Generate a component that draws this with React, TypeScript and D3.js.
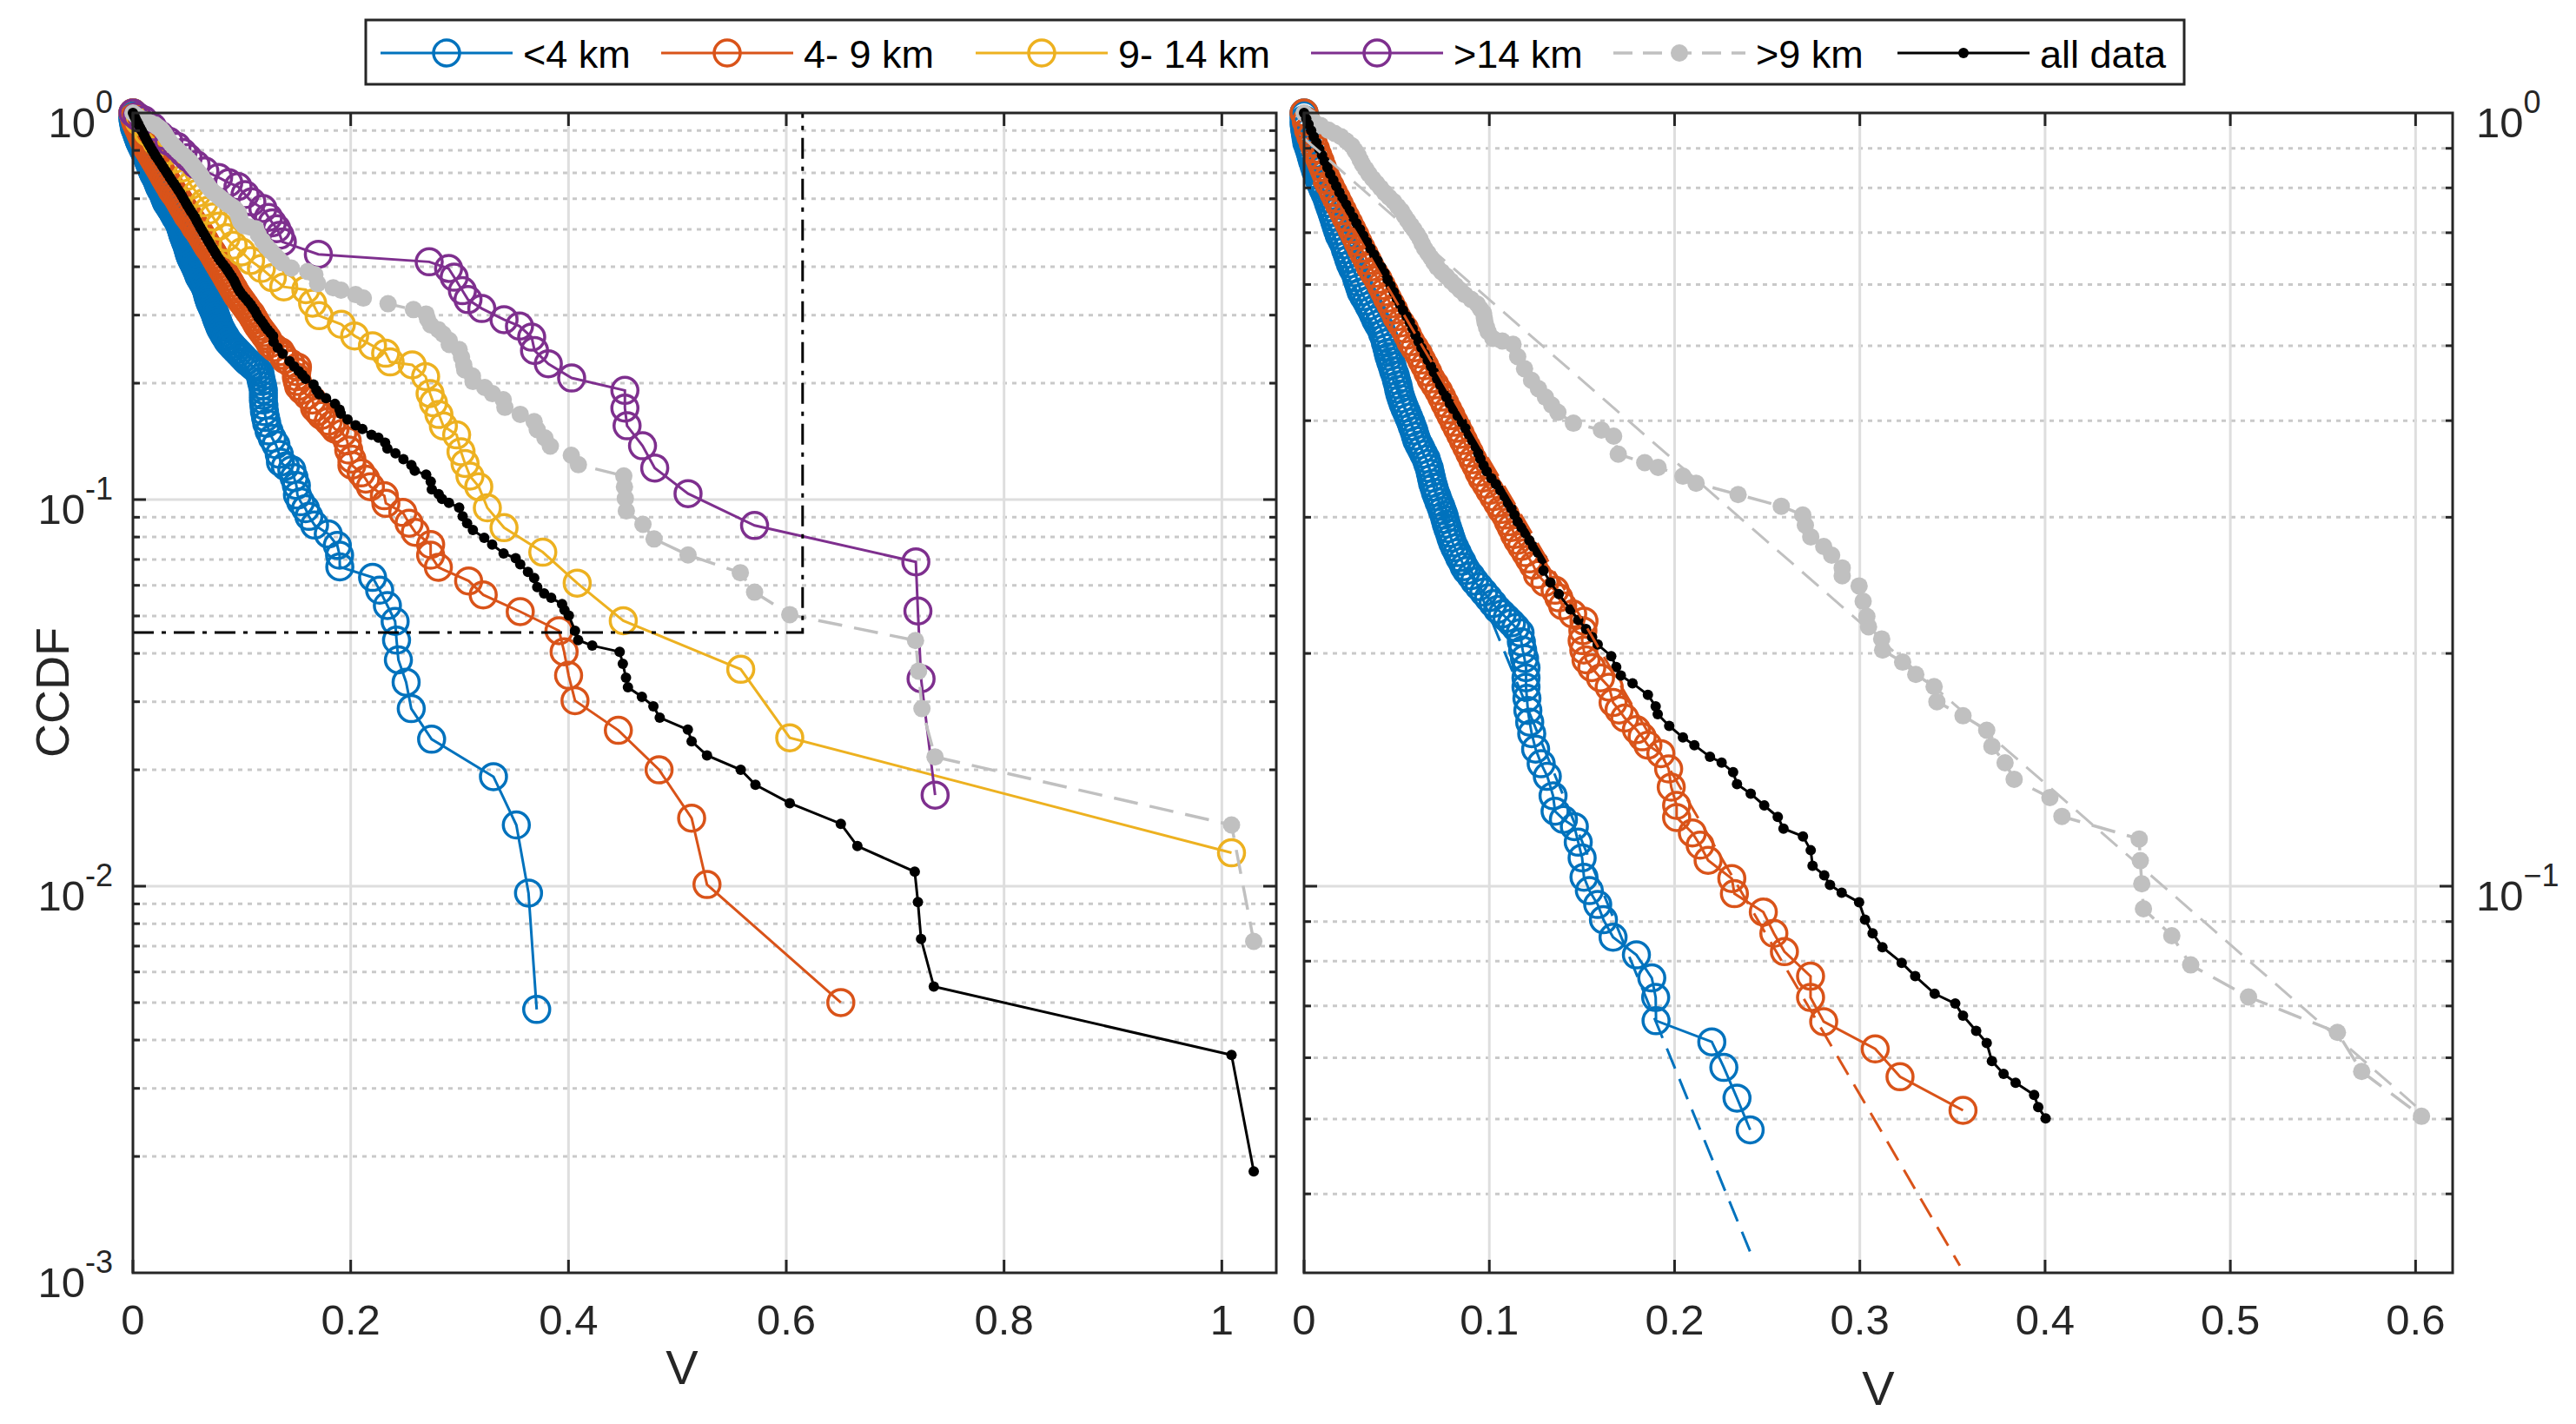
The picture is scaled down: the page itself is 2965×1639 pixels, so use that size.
import React, { useEffect, useRef } from "react";
import * as d3 from "d3";

type Pt = [number, number];

// [V, CCDF] per distance class
const lt4km: Pt[] = [
  [0, 1], [0, 0.994], [0, 0.98], [0, 0.967], [0.0003, 0.954], [0.0007, 0.941], [0.0011, 0.928], [0.0015, 0.915],
  [0.0024, 0.902], [0.0032, 0.89], [0.0039, 0.878], [0.0046, 0.866], [0.0054, 0.854], [0.0062, 0.842],
  [0.0072, 0.83], [0.0082, 0.819], [0.0092, 0.808], [0.0102, 0.797], [0.0113, 0.786], [0.0124, 0.775],
  [0.0132, 0.764], [0.0141, 0.754], [0.015, 0.743], [0.0158, 0.733], [0.0166, 0.723], [0.0174, 0.713],
  [0.0182, 0.703], [0.0191, 0.694], [0.0204, 0.684], [0.0216, 0.675], [0.0224, 0.665], [0.0233, 0.656],
  [0.0241, 0.647], [0.025, 0.638], [0.0262, 0.629], [0.0275, 0.621], [0.0283, 0.612], [0.0291, 0.604],
  [0.03, 0.595], [0.0308, 0.587], [0.0322, 0.579], [0.0337, 0.571], [0.035, 0.563], [0.0363, 0.556],
  [0.0375, 0.548], [0.0387, 0.54], [0.04, 0.533], [0.0414, 0.526], [0.0424, 0.518], [0.0434, 0.511],
  [0.044, 0.504], [0.0447, 0.497], [0.0453, 0.49], [0.0459, 0.484], [0.0467, 0.477], [0.0475, 0.471],
  [0.0483, 0.464], [0.0492, 0.458], [0.0499, 0.451], [0.0506, 0.445], [0.0511, 0.439], [0.0517, 0.433],
  [0.0525, 0.427], [0.0534, 0.421], [0.0544, 0.415], [0.0554, 0.41], [0.0565, 0.404], [0.0576, 0.398],
  [0.0584, 0.393], [0.0593, 0.388], [0.0601, 0.382], [0.0609, 0.377], [0.0621, 0.372], [0.0634, 0.367],
  [0.0646, 0.362], [0.0659, 0.357], [0.0667, 0.352], [0.0676, 0.347], [0.0682, 0.342], [0.0688, 0.337],
  [0.0694, 0.332], [0.0701, 0.328], [0.0709, 0.323], [0.0718, 0.319], [0.0728, 0.314], [0.0738, 0.31],
  [0.0746, 0.306], [0.0755, 0.302], [0.0761, 0.298], [0.0768, 0.294], [0.0776, 0.29], [0.0785, 0.286],
  [0.0793, 0.282], [0.0802, 0.278], [0.0814, 0.274], [0.0827, 0.27], [0.0839, 0.266], [0.0852, 0.263],
  [0.0864, 0.259], [0.0877, 0.256], [0.09, 0.252], [0.092, 0.248], [0.0945, 0.244], [0.097, 0.24],
  [0.0995, 0.236], [0.102, 0.232], [0.1045, 0.228], [0.107, 0.225], [0.1095, 0.222], [0.112, 0.219],
  [0.1143, 0.216], [0.1166, 0.2127], [0.1173, 0.207], [0.118, 0.202], [0.119, 0.197], [0.1198, 0.1917],
  [0.1198, 0.186], [0.1198, 0.1809], [0.1203, 0.175], [0.1208, 0.1688], [0.1218, 0.163], [0.1229, 0.1575],
  [0.125, 0.1504], [0.128, 0.144], [0.1313, 0.1387], [0.1344, 0.1309], [0.1355, 0.125], [0.14, 0.122],
  [0.1459, 0.1194], [0.148, 0.114], [0.1501, 0.1088], [0.1511, 0.1027], [0.154, 0.0987], [0.1585, 0.0947],
  [0.1616, 0.0905], [0.1668, 0.0859], [0.1794, 0.0815], [0.1877, 0.0761], [0.1898, 0.0718], [0.19, 0.067],
  [0.2201, 0.0629], [0.2266, 0.0583], [0.2337, 0.0532], [0.2408, 0.0484], [0.2421, 0.0433], [0.2438, 0.0385],
  [0.2509, 0.0337], [0.2556, 0.0288], [0.2743, 0.024], [0.3311, 0.0192], [0.3521, 0.0144], [0.3633, 0.0096],
  [0.3708, 0.0048],
];

const km4to9: Pt[] = [
  [0, 1], [0.0012, 0.975], [0.0024, 0.95], [0.0037, 0.932], [0.0049, 0.915], [0.0062, 0.898], [0.0074, 0.882],
  [0.0087, 0.866], [0.0099, 0.85], [0.0112, 0.834], [0.0124, 0.819], [0.0141, 0.804], [0.0158, 0.789],
  [0.0175, 0.775], [0.0191, 0.761], [0.0208, 0.747], [0.0225, 0.733], [0.0242, 0.72], [0.0258, 0.707],
  [0.0275, 0.694], [0.0291, 0.681], [0.0308, 0.668], [0.0325, 0.656], [0.0342, 0.644], [0.0358, 0.632],
  [0.0379, 0.62], [0.04, 0.609], [0.0417, 0.598], [0.0434, 0.587], [0.045, 0.576], [0.0467, 0.566],
  [0.0484, 0.556], [0.05, 0.545], [0.0521, 0.535], [0.0542, 0.526], [0.0559, 0.516], [0.0576, 0.506],
  [0.0597, 0.497], [0.0618, 0.488], [0.0635, 0.479], [0.0651, 0.471], [0.0668, 0.462], [0.0685, 0.453],
  [0.0706, 0.445], [0.0726, 0.437], [0.0743, 0.429], [0.076, 0.421], [0.0777, 0.413], [0.0793, 0.406],
  [0.081, 0.398], [0.0827, 0.391], [0.0844, 0.384], [0.086, 0.377], [0.0877, 0.37], [0.0894, 0.363],
  [0.0911, 0.356], [0.0927, 0.35], [0.0944, 0.343], [0.0961, 0.337], [0.0982, 0.331], [0.1002, 0.325],
  [0.1023, 0.319], [0.1044, 0.313], [0.1065, 0.307], [0.1086, 0.302], [0.1103, 0.296], [0.1119, 0.291],
  [0.1136, 0.285], [0.1153, 0.28], [0.1174, 0.275], [0.1195, 0.27], [0.1216, 0.265], [0.1237, 0.26],
  [0.126, 0.253], [0.13, 0.247], [0.1355, 0.2414], [0.1375, 0.236], [0.1396, 0.2305], [0.145, 0.225],
  [0.1511, 0.2202], [0.1505, 0.214], [0.1501, 0.2078], [0.151, 0.202], [0.1522, 0.1962], [0.1553, 0.1917],
  [0.16, 0.186], [0.1647, 0.1809], [0.1668, 0.1728], [0.17, 0.169], [0.1731, 0.165], [0.1794, 0.1594],
  [0.1825, 0.156], [0.1856, 0.1522], [0.1926, 0.1484], [0.1968, 0.1418], [0.1982, 0.1343], [0.2011, 0.1272],
  [0.2011, 0.1227], [0.2096, 0.1172], [0.2138, 0.113], [0.2181, 0.108], [0.2309, 0.1023], [0.2323, 0.0978],
  [0.2479, 0.0926], [0.2536, 0.0869], [0.2593, 0.0823], [0.2734, 0.0765], [0.2734, 0.0718], [0.2805, 0.0668],
  [0.3083, 0.0616], [0.3217, 0.0567], [0.3557, 0.0513], [0.3913, 0.0458], [0.396, 0.0404], [0.4001, 0.0351],
  [0.406, 0.0302], [0.4458, 0.0253], [0.4832, 0.02], [0.5131, 0.015], [0.5272, 0.0101], [0.6501, 0.005],
];

const km9to14: Pt[] = [
  [0, 1], [0.006, 0.95], [0.014, 0.89], [0.022, 0.84], [0.0326, 0.799], [0.038, 0.76], [0.0448, 0.72],
  [0.049, 0.685], [0.0532, 0.65], [0.059, 0.62], [0.0653, 0.586], [0.069, 0.56], [0.0735, 0.538],
  [0.079, 0.51], [0.0856, 0.476], [0.092, 0.455], [0.0998, 0.437], [0.108, 0.415], [0.118, 0.396],
  [0.128, 0.375], [0.1385, 0.355], [0.1588, 0.349], [0.165, 0.322], [0.171, 0.299], [0.1914, 0.284],
  [0.2036, 0.265], [0.22, 0.25], [0.2321, 0.239], [0.2362, 0.227], [0.2565, 0.223], [0.2688, 0.208],
  [0.2729, 0.188], [0.276, 0.178], [0.281, 0.166], [0.2851, 0.155], [0.2973, 0.147], [0.3013, 0.133],
  [0.305, 0.124], [0.3095, 0.115], [0.3176, 0.108], [0.3255, 0.0952], [0.3408, 0.0846], [0.3764, 0.0731],
  [0.408, 0.0608], [0.4503, 0.0486], [0.5582, 0.0364], [0.6032, 0.0242], [1.0089, 0.0122],
];

const gt14km: Pt[] = [
  [0, 1], [0.004, 0.98], [0.01, 0.959], [0.018, 0.92], [0.0252, 0.875], [0.033, 0.845], [0.0405, 0.819],
  [0.046, 0.79], [0.0507, 0.766], [0.058, 0.735], [0.066, 0.708], [0.0787, 0.681], [0.088, 0.66],
  [0.0965, 0.645], [0.103, 0.615], [0.1092, 0.589], [0.1194, 0.566], [0.1245, 0.537], [0.128, 0.52],
  [0.1321, 0.502], [0.135, 0.483], [0.1372, 0.464], [0.1703, 0.431], [0.2721, 0.412], [0.2899, 0.396],
  [0.295, 0.376], [0.3026, 0.347], [0.3077, 0.329], [0.3204, 0.312], [0.3408, 0.292], [0.355, 0.281],
  [0.3662, 0.263], [0.3688, 0.243], [0.3815, 0.2245], [0.4029, 0.2063], [0.4518, 0.1916], [0.4518, 0.1724],
  [0.4538, 0.1552], [0.468, 0.1378], [0.4792, 0.1207], [0.5098, 0.1036], [0.5709, 0.0857], [0.719, 0.069],
  [0.7209, 0.0515], [0.7238, 0.0344], [0.7367, 0.0172],
];

const gt9km: Pt[] = [
  [0, 1], [0.0025, 0.988], [0.0049, 0.976], [0.009, 0.963], [0.0132, 0.95], [0.0165, 0.941], [0.0199, 0.932],
  [0.0228, 0.92], [0.0258, 0.907], [0.0275, 0.894], [0.0291, 0.882], [0.0303, 0.87], [0.0316, 0.858],
  [0.0333, 0.846], [0.035, 0.834], [0.0371, 0.822], [0.0392, 0.811], [0.0413, 0.8], [0.0434, 0.789],
  [0.0459, 0.778], [0.0484, 0.768], [0.0505, 0.757], [0.0526, 0.747], [0.0542, 0.736], [0.0559, 0.726],
  [0.0576, 0.716], [0.0593, 0.707], [0.061, 0.697], [0.0626, 0.687], [0.0638, 0.677], [0.0651, 0.668],
  [0.0668, 0.659], [0.0685, 0.65], [0.0701, 0.641], [0.0718, 0.632], [0.0743, 0.623], [0.0768, 0.615],
  [0.0793, 0.606], [0.0818, 0.598], [0.0843, 0.59], [0.0869, 0.582], [0.0902, 0.574], [0.0935, 0.566],
  [0.0952, 0.558], [0.0969, 0.551], [0.0973, 0.543], [0.0977, 0.536], [0.0985, 0.528], [0.0994, 0.521],
  [0.1019, 0.511], [0.107, 0.507], [0.1128, 0.502], [0.1153, 0.484], [0.119, 0.467], [0.1228, 0.451],
  [0.1265, 0.44], [0.1303, 0.429], [0.1337, 0.419], [0.137, 0.41], [0.1454, 0.397], [0.1605, 0.389],
  [0.1671, 0.382], [0.1696, 0.362], [0.1839, 0.353], [0.1911, 0.348], [0.2045, 0.339], [0.2116, 0.332],
  [0.2343, 0.321], [0.2576, 0.31], [0.2692, 0.302], [0.2706, 0.293], [0.2735, 0.283], [0.2805, 0.275],
  [0.2848, 0.268], [0.2905, 0.258], [0.2905, 0.252], [0.2996, 0.2445], [0.3018, 0.2336], [0.3038, 0.2233],
  [0.3047, 0.2165], [0.3118, 0.2088], [0.3123, 0.202], [0.3231, 0.1949], [0.3302, 0.1879], [0.3401, 0.1812],
  [0.3416, 0.1732], [0.3557, 0.1661], [0.3685, 0.1591], [0.3713, 0.1517], [0.3784, 0.1444], [0.3833, 0.1375],
  [0.4026, 0.1302], [0.4091, 0.1231], [0.4508, 0.1151], [0.4514, 0.1079], [0.4522, 0.1007], [0.4531, 0.0935],
  [0.4684, 0.0863], [0.4786, 0.0791], [0.5098, 0.0719], [0.5578, 0.0647], [0.5709, 0.0576], [0.6032, 0.0504],
  [0.7187, 0.0432], [0.7215, 0.036], [0.7246, 0.0288], [0.7366, 0.0216], [1.0089, 0.0144], [1.0293, 0.0072],
];

const allData: Pt[] = [
  [0, 1], [0.0012, 0.983], [0.0024, 0.967], [0.0038, 0.949], [0.0052, 0.932], [0.0067, 0.915], [0.0082, 0.898],
  [0.0097, 0.882], [0.0111, 0.866], [0.0126, 0.85], [0.0141, 0.834], [0.0158, 0.819], [0.0174, 0.804],
  [0.0191, 0.789], [0.0208, 0.775], [0.0227, 0.761], [0.0246, 0.747], [0.0265, 0.733], [0.0283, 0.72],
  [0.0302, 0.707], [0.032, 0.694], [0.0339, 0.681], [0.0358, 0.668], [0.0378, 0.656], [0.0397, 0.644],
  [0.0416, 0.632], [0.0434, 0.621], [0.0451, 0.609], [0.0467, 0.598], [0.0484, 0.587], [0.05, 0.576],
  [0.0517, 0.566], [0.0534, 0.556], [0.0553, 0.546], [0.0571, 0.536], [0.0586, 0.526], [0.0601, 0.516],
  [0.0618, 0.506], [0.0634, 0.497], [0.0651, 0.488], [0.0668, 0.479], [0.0685, 0.47], [0.0701, 0.462],
  [0.0718, 0.453], [0.0735, 0.445], [0.0752, 0.437], [0.0768, 0.429], [0.0787, 0.421], [0.0805, 0.414],
  [0.0829, 0.406], [0.0852, 0.398], [0.0871, 0.391], [0.0889, 0.384], [0.0908, 0.377], [0.0927, 0.37],
  [0.094, 0.363], [0.0952, 0.357], [0.0969, 0.35], [0.0986, 0.344], [0.1011, 0.337], [0.1036, 0.331],
  [0.106, 0.325], [0.1083, 0.319], [0.1101, 0.313], [0.1119, 0.308], [0.1136, 0.302], [0.1153, 0.296],
  [0.1174, 0.291], [0.1195, 0.286], [0.1216, 0.28], [0.1237, 0.275], [0.1262, 0.27], [0.1287, 0.265],
  [0.1292, 0.2559], [0.133, 0.247], [0.1375, 0.2386], [0.1438, 0.2279], [0.148, 0.221], [0.1522, 0.2151],
  [0.1555, 0.21], [0.1585, 0.2054], [0.1658, 0.1984], [0.1685, 0.192], [0.171, 0.1873], [0.1773, 0.183],
  [0.1856, 0.1768], [0.1898, 0.1708], [0.1909, 0.1669], [0.1971, 0.1612], [0.2045, 0.1557], [0.2107, 0.1522],
  [0.2191, 0.147], [0.2254, 0.1445], [0.2316, 0.1404], [0.2337, 0.1355], [0.2411, 0.1317], [0.2484, 0.1272],
  [0.2557, 0.1229], [0.2588, 0.1187], [0.2693, 0.116], [0.2735, 0.1113], [0.2745, 0.1063], [0.2808, 0.1033],
  [0.2839, 0.1004], [0.2902, 0.0981], [0.2996, 0.0953], [0.3028, 0.0905], [0.3069, 0.0869], [0.3122, 0.0834],
  [0.3226, 0.0796], [0.3299, 0.0765], [0.3404, 0.0726], [0.3515, 0.0705], [0.3557, 0.068], [0.3628, 0.065],
  [0.3685, 0.0627], [0.3713, 0.0594], [0.3776, 0.0572], [0.3841, 0.0557], [0.3941, 0.0537], [0.3963, 0.0518],
  [0.4003, 0.0501], [0.406, 0.0458], [0.4089, 0.0433], [0.4218, 0.0419], [0.447, 0.0404], [0.4499, 0.0376],
  [0.4528, 0.0346], [0.4546, 0.0327], [0.4674, 0.0309], [0.478, 0.0292], [0.4838, 0.0273], [0.5096, 0.0254],
  [0.5131, 0.0237], [0.5272, 0.0218], [0.5582, 0.02], [0.5717, 0.0183], [0.6032, 0.0164], [0.6501, 0.0145],
  [0.6653, 0.0127], [0.718, 0.0109], [0.7209, 0.0091], [0.7238, 0.0073], [0.7355, 0.0055], [1.0089, 0.00366],
  [1.0293, 0.00183],
];

// exponential fits, straight on the semilog axes (end points)
const fitLt4: Pt[] = [[0, 0.863], [0.2407, 0.0337]];
const fit4to9: Pt[] = [[0, 0.912], [0.354, 0.0323]];
const fitGt9: Pt[] = [[0, 0.927], [0.6, 0.052]];

// area of the left panel that the right panel blows up
const zoomBoxV = [0, 0.615];
const zoomBoxCCDF = [0.0453, 1];
const ZOOM_CUT = 0.047;

const legendLabels = ["<4 km", "4- 9 km", "9- 14 km", ">14 km", ">9 km", "all data"];
const xTicksLeft = [0, 0.2, 0.4, 0.6, 0.8, 1];
const xTicksRight = [0, 0.1, 0.2, 0.3, 0.4, 0.5, 0.6];
const decadesLeft = [-3, -2, -1, 0];
const decadesRight = [-1, 0];

const W = 2965;
const H = 1639;
const FONT = "'Liberation Sans', Arial, Helvetica, sans-serif";
const INK = "#262626";

type Mark = "o" | "dot" | "small";
interface Series {
  data: Pt[];
  color: string;
  mark: Mark;
  dash: string | null;
  inZoom: boolean;
}

const SERIES: Series[] = [
  { data: lt4km, color: "#0072BD", mark: "o", dash: null, inZoom: true },
  { data: km4to9, color: "#D95319", mark: "o", dash: null, inZoom: true },
  { data: km9to14, color: "#EDB120", mark: "o", dash: null, inZoom: false },
  { data: gt14km, color: "#7E2F8E", mark: "o", dash: null, inZoom: false },
  { data: gt9km, color: "#C0C0C0", mark: "dot", dash: "28 14", inZoom: true },
  { data: allData, color: "#000000", mark: "small", dash: null, inZoom: true },
];

const FITS = [
  { data: fitLt4, color: "#0072BD" },
  { data: fit4to9, color: "#D95319" },
  { data: fitGt9, color: "#C0C0C0" },
];

interface Panel {
  left: number;
  right: number;
  top: number;
  bottom: number;
  xMax: number;
  yMin: number;
  xTicks: number[];
  decades: number[];
  labelSide: "left" | "right";
  xLabelY: number;
  zoomed: boolean;
}

const LEFT_PANEL: Panel = {
  left: 153, right: 1469, top: 130, bottom: 1465, xMax: 1.05, yMin: 1e-3,
  xTicks: xTicksLeft, decades: decadesLeft, labelSide: "left", xLabelY: 1593, zoomed: false,
};
const RIGHT_PANEL: Panel = {
  left: 1501, right: 2823, top: 130, bottom: 1465, xMax: 0.62, yMin: Math.pow(10, -1.5),
  xTicks: xTicksRight, decades: decadesRight, labelSide: "right", xLabelY: 1617, zoomed: true,
};

function drawMarkers(g: any, data: Pt[], s: { color: string; mark: Mark }, x: any, y: any) {
  const sel = g.selectAll(null).data(data).enter().append("circle")
    .attr("cx", (d: Pt) => x(d[0]))
    .attr("cy", (d: Pt) => y(d[1]));
  if (s.mark === "o") {
    sel.attr("r", 15).attr("fill", "none").attr("stroke", s.color).attr("stroke-width", 3.5);
  } else if (s.mark === "dot") {
    sel.attr("r", 10).attr("fill", s.color);
  } else {
    sel.attr("r", 6).attr("fill", s.color);
  }
}

function drawPanel(svg: any, p: Panel) {
  const x = d3.scaleLinear().domain([0, p.xMax]).range([p.left, p.right]);
  const y = d3.scaleLog().domain([p.yMin, 1]).range([p.bottom, p.top]);
  const g = svg.append("g");

  // minor log values inside the y range
  const minors: number[] = [];
  const kLow = Math.floor(Math.log10(p.yMin));
  for (let k = kLow; k < 0; k++) {
    for (let m = 2; m <= 9; m++) {
      const v = m * Math.pow(10, k);
      if (v > p.yMin * 1.0001 && v < 1) minors.push(v);
    }
  }
  const majors = p.decades.map((e) => Math.pow(10, e)).filter((v) => v > p.yMin * 1.0001 && v < 1);

  // grid
  g.selectAll(null).data(minors).enter().append("line")
    .attr("x1", p.left).attr("x2", p.right)
    .attr("y1", (d: number) => y(d)).attr("y2", (d: number) => y(d))
    .attr("stroke", "#c9c9c9").attr("stroke-width", 3).attr("stroke-dasharray", "5 6");
  g.selectAll(null).data(majors).enter().append("line")
    .attr("x1", p.left).attr("x2", p.right)
    .attr("y1", (d: number) => y(d)).attr("y2", (d: number) => y(d))
    .attr("stroke", "#dedede").attr("stroke-width", 3);
  g.selectAll(null).data(p.xTicks.filter((t) => t > 0)).enter().append("line")
    .attr("x1", (d: number) => x(d)).attr("x2", (d: number) => x(d))
    .attr("y1", p.top).attr("y2", p.bottom)
    .attr("stroke", "#dedede").attr("stroke-width", 3);

  // data
  const line = d3.line<Pt>().x((d) => x(d[0])).y((d) => y(d[1]));
  SERIES.forEach((s) => {
    if (p.zoomed && !s.inZoom) return;
    const pts = p.zoomed ? s.data.filter((d) => d[1] >= ZOOM_CUT && d[0] <= p.xMax) : s.data;
    g.append("path")
      .attr("d", line(pts))
      .attr("fill", "none")
      .attr("stroke", s.color)
      .attr("stroke-width", s.mark === "dot" ? 3.5 : 3)
      .attr("stroke-dasharray", s.dash);
    drawMarkers(g, pts, s, x, y);
  });

  if (p.zoomed) {
    FITS.forEach((f) => {
      g.append("path")
        .attr("d", line(f.data))
        .attr("fill", "none")
        .attr("stroke", f.color)
        .attr("stroke-width", 3)
        .attr("stroke-dasharray", "25 13");
    });
  } else {
    // dash-dot outline of the blown-up area
    g.append("path")
      .attr("d", `M${x(zoomBoxV[0])},${y(zoomBoxCCDF[0])}L${x(zoomBoxV[1])},${y(zoomBoxCCDF[0])}L${x(zoomBoxV[1])},${y(zoomBoxCCDF[1])}`)
      .attr("fill", "none")
      .attr("stroke", "#000")
      .attr("stroke-width", 3)
      .attr("stroke-dasharray", "24 9 5 9");
  }

  // ticks (inward, all four sides)
  const ticks = g.append("g").attr("stroke", INK).attr("stroke-width", 3);
  p.xTicks.forEach((t) => {
    ticks.append("line").attr("x1", x(t)).attr("x2", x(t)).attr("y1", p.bottom).attr("y2", p.bottom - 15);
    ticks.append("line").attr("x1", x(t)).attr("x2", x(t)).attr("y1", p.top).attr("y2", p.top + 15);
  });
  majors.forEach((v) => {
    ticks.append("line").attr("x1", p.left).attr("x2", p.left + 15).attr("y1", y(v)).attr("y2", y(v));
    ticks.append("line").attr("x1", p.right).attr("x2", p.right - 15).attr("y1", y(v)).attr("y2", y(v));
  });
  minors.forEach((v) => {
    ticks.append("line").attr("x1", p.left).attr("x2", p.left + 8).attr("y1", y(v)).attr("y2", y(v));
    ticks.append("line").attr("x1", p.right).attr("x2", p.right - 8).attr("y1", y(v)).attr("y2", y(v));
  });

  g.append("rect")
    .attr("x", p.left).attr("y", p.top)
    .attr("width", p.right - p.left).attr("height", p.bottom - p.top)
    .attr("fill", "none").attr("stroke", INK).attr("stroke-width", 3);

  // tick labels
  const labels = g.append("g").attr("fill", INK).attr("font-family", FONT);
  p.xTicks.forEach((t) => {
    labels.append("text")
      .attr("x", x(t)).attr("y", 1536)
      .attr("text-anchor", "middle").attr("font-size", 49)
      .text(String(t));
  });
  p.decades.forEach((e) => {
    const onLeft = p.labelSide === "left";
    const txt = labels.append("text")
      .attr("x", onLeft ? p.left - 23 : p.right + 27)
      .attr("y", y(Math.pow(10, e)) + 28)
      .attr("text-anchor", onLeft ? "end" : "start")
      .attr("font-size", 49);
    txt.append("tspan").text("10");
    txt.append("tspan").attr("dy", -28).attr("font-size", 36)
      .text(e === 0 ? "0" : (onLeft ? "-" : "\u2212") + String(-e));
  });

  labels.append("text")
    .attr("x", p.labelSide === "left" ? 785 : (p.left + p.right) / 2)
    .attr("y", p.xLabelY)
    .attr("text-anchor", "middle").attr("font-size", 56)
    .text("V");
}

function drawLegend(svg: any) {
  const g = svg.append("g");
  g.append("rect")
    .attr("x", 421).attr("y", 23).attr("width", 2514 - 421).attr("height", 97 - 23)
    .attr("fill", "#fff").attr("stroke", INK).attr("stroke-width", 3);
  const itemX = [438, 761, 1123, 1509, 1857, 2184];
  const cy = 61;
  SERIES.forEach((s, i) => {
    const x0 = itemX[i];
    g.append("line")
      .attr("x1", x0).attr("x2", x0 + 152).attr("y1", cy).attr("y2", cy)
      .attr("stroke", s.color).attr("stroke-width", s.mark === "dot" ? 3.5 : 3)
      .attr("stroke-dasharray", s.dash ? "22 12" : null);
    const fx = d3.scaleLinear().domain([0, 1]).range([x0 + 76, x0 + 77]);
    const fy = (v: number) => cy + v;
    drawMarkers(g, [[0, 0]], s, fx, fy);
    g.append("text")
      .attr("x", x0 + 164).attr("y", 78)
      .attr("font-family", FONT).attr("font-size", 45).attr("fill", "#000")
      .text(legendLabels[i]);
  });
}

export default function App() {
  const ref = useRef<SVGSVGElement | null>(null);

  useEffect(() => {
    document.body.style.margin = "0";
    const svg = d3.select(ref.current);
    svg.selectAll("*").remove();
    svg.append("rect").attr("width", W).attr("height", H).attr("fill", "#fff");

    drawPanel(svg, LEFT_PANEL);
    drawPanel(svg, RIGHT_PANEL);

    svg.append("text")
      .attr("transform", "translate(79,797) rotate(-90)")
      .attr("text-anchor", "middle")
      .attr("font-family", FONT).attr("font-size", 54).attr("fill", INK)
      .text("CCDF");

    drawLegend(svg);
  }, []);

  return <svg ref={ref} width={W} height={H} style={{ display: "block" }} />;
}
